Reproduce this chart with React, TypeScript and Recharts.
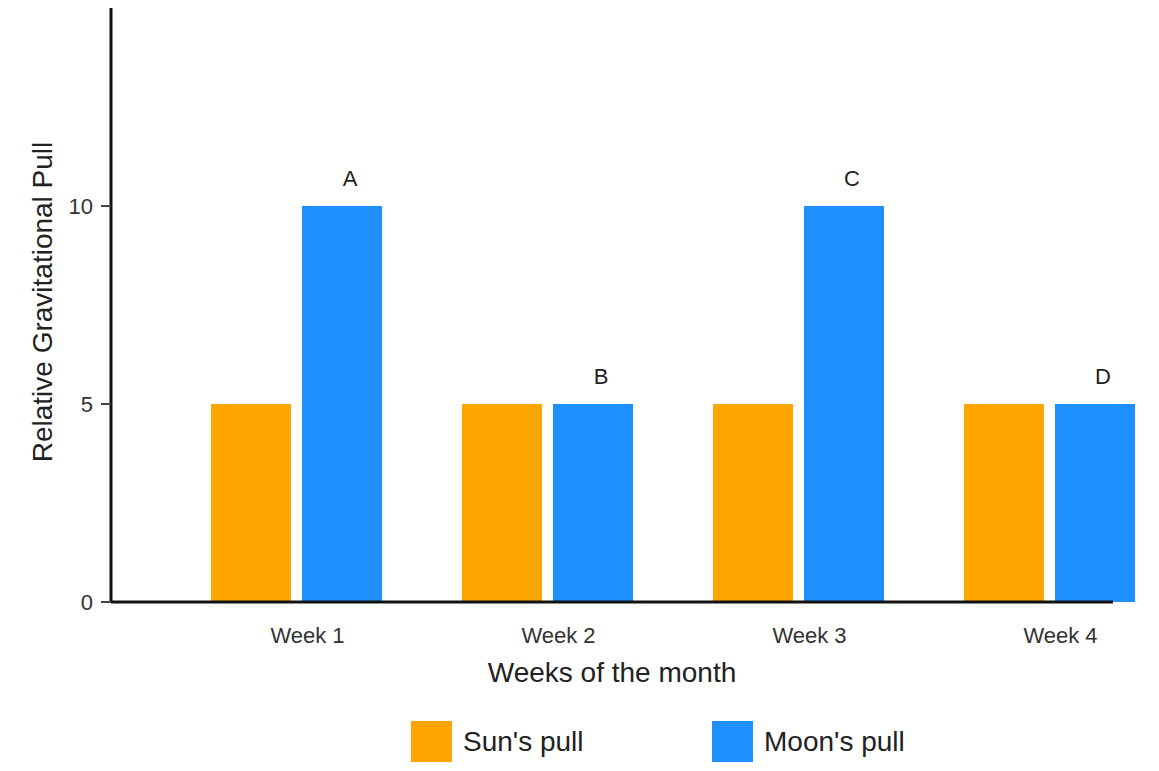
import React from 'react';
import { BarChart, Bar, XAxis, YAxis, Legend, LabelList, Label } from 'recharts';

const WEEKS = ['Week 1', 'Week 2', 'Week 3', 'Week 4'];
const SUN_PULL = [5, 5, 5, 5];
const MOON_PULL = [10, 5, 10, 5];
const MOON_TAGS = ['A', 'B', 'C', 'D'];
const Y_TICKS = [0, 5, 10];
const SERIES_ORDER = ["Sun's pull", "Moon's pull"];

const SUN = '#FFA500';
const MOON = '#1E90FF';
const FONT = '"Liberation Sans", Arial, sans-serif';

const data = WEEKS.map((week, i) => ({
  week,
  sun: SUN_PULL[i],
  moon: MOON_PULL[i],
  tag: MOON_TAGS[i],
}));

function LegendBox({ payload }: any) {
  const items = [...(payload || [])].sort(
    (a: any, b: any) => SERIES_ORDER.indexOf(a.value) - SERIES_ORDER.indexOf(b.value)
  );
  return (
    <div style={{ display: 'flex', paddingLeft: 411, paddingTop: 19, height: 41, fontFamily: FONT }}>
      {items.map((item: any) => (
        <div key={item.value} style={{ display: 'flex', alignItems: 'center', width: 301 }}>
          <div style={{ width: 41, height: 41, background: item.color, marginRight: 11 }} />
          <span style={{ fontSize: 28, color: '#222' }}>{item.value}</span>
        </div>
      ))}
    </div>
  );
}

export default function App() {
  return (
    <div style={{ position: 'absolute', left: 0, top: 0, background: '#fff' }}>
      <BarChart
        width={1159}
        height={771}
        data={data}
        margin={{ top: 8, right: 46, left: 0, bottom: 9 }}
        barGap={11}
        barSize={80}
      >
        <XAxis
          dataKey="week"
          height={100}
          padding={{ left: 60, right: -62 }}
          axisLine={{ stroke: '#111', strokeWidth: 3 }}
          tickLine={false}
          tickSize={0}
          tickMargin={25}
          tick={{ fill: '#333', fontSize: 22, fontFamily: FONT, dx: 11 }}
        >
          <Label
            value="Weeks of the month"
            position="insideBottom"
            offset={20}
            style={{ fill: '#222', fontSize: 28, fontFamily: FONT }}
          />
        </XAxis>
        <YAxis
          width={111}
          domain={[0, 15]}
          ticks={Y_TICKS}
          axisLine={{ stroke: '#111', strokeWidth: 3 }}
          tickLine={{ stroke: '#444', strokeWidth: 2 }}
          tickSize={10}
          tickMargin={8}
          tick={{ fill: '#333', fontSize: 22, fontFamily: FONT }}
        >
          <Label
            value="Relative Gravitational Pull"
            angle={-90}
            position="insideLeft"
            offset={42}
            dy={-3}
            style={{ textAnchor: 'middle', fill: '#222', fontSize: 28, fontFamily: FONT }}
          />
        </YAxis>
        <Legend verticalAlign="bottom" align="left" content={LegendBox} />
        <Bar dataKey="sun" name="Sun's pull" fill={SUN} isAnimationActive={false} />
        <Bar dataKey="moon" name="Moon's pull" fill={MOON} isAnimationActive={false}>
          <LabelList
            dataKey="tag"
            position="top"
            offset={20}
            dx={8}
            style={{ fill: '#222', fontSize: 22, fontFamily: FONT }}
          />
        </Bar>
      </BarChart>
    </div>
  );
}
